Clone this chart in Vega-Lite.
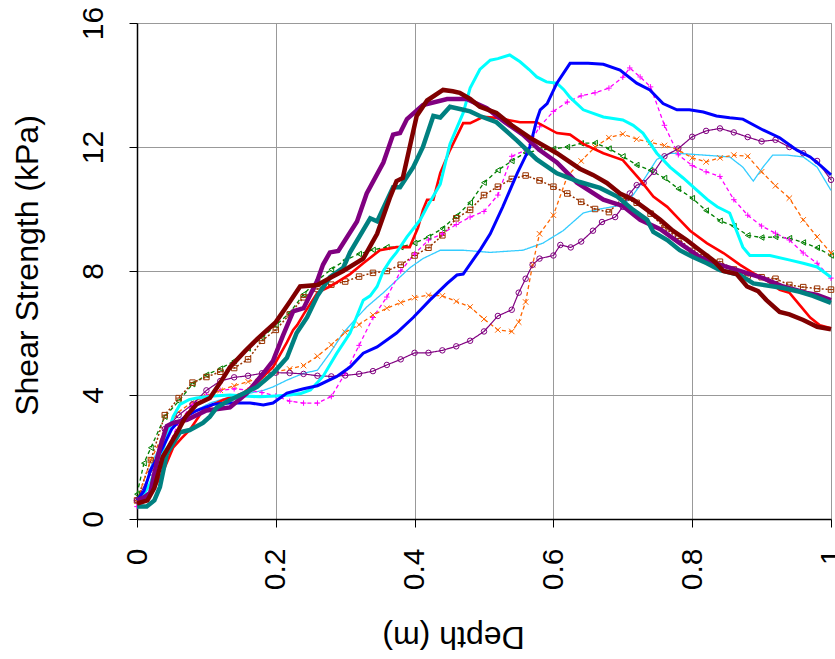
{
"$schema": "https://vega.github.io/schema/vega-lite/v6.json",
"autosize": {"type": "none"},
"padding": {"left": 137, "top": 23, "right": 4, "bottom": 140},
"width": 694,
"height": 496,
"background": "white",
"config": {
  "view": {"stroke": "#999999", "strokeWidth": 1},
  "font": "Liberation Sans",
  "axis": {"labelFont": "Liberation Sans", "titleFont": "Liberation Sans", "labelColor": "black", "titleColor": "black", "titleFontWeight": "normal", "domainColor": "black", "domainWidth": 1.5, "tickColor": "black", "tickWidth": 1, "tickSize": 8, "gridColor": "#999999", "gridWidth": 1, "labelFlush": false, "labelOverlap": false}
},
"data": {"values": [
{"k":"a_lb","d":0,"v":0.6},{"k":"a_lb","d":0.01,"v":0.9},{"k":"a_lb","d":0.023,"v":1.9},{"k":"a_lb","d":0.037,"v":2.5},{"k":"a_lb","d":0.052,"v":3.0},{"k":"a_lb","d":0.076,"v":3.4},{"k":"a_lb","d":0.105,"v":3.74},{"k":"a_lb","d":0.134,"v":3.94},{"k":"a_lb","d":0.163,"v":4.06},{"k":"a_lb","d":0.182,"v":4.15},{"k":"a_lb","d":0.196,"v":4.26},{"k":"a_lb","d":0.216,"v":4.48},{"k":"a_lb","d":0.24,"v":4.7},{"k":"a_lb","d":0.26,"v":4.8},{"k":"a_lb","d":0.278,"v":5.35},{"k":"a_lb","d":0.297,"v":6.0},{"k":"a_lb","d":0.317,"v":6.5},{"k":"a_lb","d":0.331,"v":6.84},{"k":"a_lb","d":0.355,"v":7.3},{"k":"a_lb","d":0.374,"v":7.7},{"k":"a_lb","d":0.393,"v":8.1},{"k":"a_lb","d":0.412,"v":8.4},{"k":"a_lb","d":0.437,"v":8.67},{"k":"a_lb","d":0.47,"v":8.67},{"k":"a_lb","d":0.509,"v":8.6},{"k":"a_lb","d":0.535,"v":8.64},{"k":"a_lb","d":0.556,"v":8.67},{"k":"a_lb","d":0.585,"v":8.9},{"k":"a_lb","d":0.614,"v":9.3},{"k":"a_lb","d":0.643,"v":9.87},{"k":"a_lb","d":0.667,"v":10.0},{"k":"a_lb","d":0.692,"v":10.1},{"k":"a_lb","d":0.71,"v":10.3},{"k":"a_lb","d":0.729,"v":10.9},{"k":"a_lb","d":0.749,"v":11.6},{"k":"a_lb","d":0.768,"v":11.8},{"k":"a_lb","d":0.79,"v":11.78},{"k":"a_lb","d":0.816,"v":11.74},{"k":"a_lb","d":0.854,"v":11.68},{"k":"a_lb","d":0.873,"v":11.35},{"k":"a_lb","d":0.888,"v":10.9},{"k":"a_lb","d":0.902,"v":11.35},{"k":"a_lb","d":0.916,"v":11.74},{"k":"a_lb","d":0.936,"v":11.74},{"k":"a_lb","d":0.96,"v":11.68},{"k":"a_lb","d":0.98,"v":11.35},{"k":"a_lb","d":1.0,"v":10.6},

{"k":"b_gr","d":0,"v":0.8},{"k":"b_gr","d":0.01,"v":1.8},{"k":"b_gr","d":0.02,"v":2.3},{"k":"b_gr","d":0.04,"v":3.3},{"k":"b_gr","d":0.06,"v":3.8},{"k":"b_gr","d":0.08,"v":4.35},{"k":"b_gr","d":0.1,"v":4.65},{"k":"b_gr","d":0.12,"v":4.85},{"k":"b_gr","d":0.14,"v":5.1},{"k":"b_gr","d":0.16,"v":5.5},{"k":"b_gr","d":0.18,"v":5.85},{"k":"b_gr","d":0.2,"v":6.25},{"k":"b_gr","d":0.22,"v":6.65},{"k":"b_gr","d":0.24,"v":7.25},{"k":"b_gr","d":0.26,"v":7.7},{"k":"b_gr","d":0.28,"v":8.05},{"k":"b_gr","d":0.3,"v":8.35},{"k":"b_gr","d":0.32,"v":8.55},{"k":"b_gr","d":0.34,"v":8.68},{"k":"b_gr","d":0.36,"v":8.77},{"k":"b_gr","d":0.38,"v":8.77},{"k":"b_gr","d":0.4,"v":8.9},{"k":"b_gr","d":0.42,"v":9.1},{"k":"b_gr","d":0.44,"v":9.37},{"k":"b_gr","d":0.46,"v":9.77},{"k":"b_gr","d":0.48,"v":10.2},{"k":"b_gr","d":0.5,"v":10.85},{"k":"b_gr","d":0.52,"v":11.25},{"k":"b_gr","d":0.54,"v":11.55},{"k":"b_gr","d":0.56,"v":11.82},{"k":"b_gr","d":0.58,"v":11.9},{"k":"b_gr","d":0.6,"v":11.94},{"k":"b_gr","d":0.62,"v":12.0},{"k":"b_gr","d":0.64,"v":12.12},{"k":"b_gr","d":0.66,"v":12.13},{"k":"b_gr","d":0.68,"v":11.95},{"k":"b_gr","d":0.7,"v":11.7},{"k":"b_gr","d":0.72,"v":11.42},{"k":"b_gr","d":0.74,"v":11.25},{"k":"b_gr","d":0.76,"v":11.0},{"k":"b_gr","d":0.78,"v":10.65},{"k":"b_gr","d":0.8,"v":10.35},{"k":"b_gr","d":0.82,"v":9.95},{"k":"b_gr","d":0.84,"v":9.62},{"k":"b_gr","d":0.86,"v":9.45},{"k":"b_gr","d":0.88,"v":9.15},{"k":"b_gr","d":0.9,"v":9.08},{"k":"b_gr","d":0.92,"v":9.1},{"k":"b_gr","d":0.94,"v":9.06},{"k":"b_gr","d":0.96,"v":8.92},{"k":"b_gr","d":0.98,"v":8.75},{"k":"b_gr","d":1.0,"v":8.5},

{"k":"c_br","d":0,"v":0.6},{"k":"c_br","d":0.02,"v":1.9},{"k":"c_br","d":0.04,"v":3.35},{"k":"c_br","d":0.06,"v":3.9},{"k":"c_br","d":0.08,"v":4.4},{"k":"c_br","d":0.1,"v":4.58},{"k":"c_br","d":0.12,"v":4.75},{"k":"c_br","d":0.14,"v":4.87},{"k":"c_br","d":0.16,"v":5.15},{"k":"c_br","d":0.18,"v":5.75},{"k":"c_br","d":0.2,"v":6.1},{"k":"c_br","d":0.22,"v":6.6},{"k":"c_br","d":0.24,"v":7.15},{"k":"c_br","d":0.26,"v":7.42},{"k":"c_br","d":0.28,"v":7.56},{"k":"c_br","d":0.3,"v":7.66},{"k":"c_br","d":0.32,"v":7.82},{"k":"c_br","d":0.34,"v":7.94},{"k":"c_br","d":0.36,"v":8.0},{"k":"c_br","d":0.38,"v":8.2},{"k":"c_br","d":0.4,"v":8.5},{"k":"c_br","d":0.42,"v":8.75},{"k":"c_br","d":0.44,"v":9.15},{"k":"c_br","d":0.46,"v":9.7},{"k":"c_br","d":0.48,"v":9.97},{"k":"c_br","d":0.5,"v":10.45},{"k":"c_br","d":0.52,"v":10.72},{"k":"c_br","d":0.54,"v":10.97},{"k":"c_br","d":0.56,"v":11.08},{"k":"c_br","d":0.58,"v":10.92},{"k":"c_br","d":0.6,"v":10.72},{"k":"c_br","d":0.62,"v":10.5},{"k":"c_br","d":0.64,"v":10.23},{"k":"c_br","d":0.66,"v":10.0},{"k":"c_br","d":0.68,"v":9.9},{"k":"c_br","d":0.7,"v":10.35},{"k":"c_br","d":0.72,"v":10.2},{"k":"c_br","d":0.74,"v":9.85},{"k":"c_br","d":0.76,"v":9.4},{"k":"c_br","d":0.78,"v":9.05},{"k":"c_br","d":0.8,"v":8.65},{"k":"c_br","d":0.82,"v":8.45},{"k":"c_br","d":0.84,"v":8.3},{"k":"c_br","d":0.86,"v":8.05},{"k":"c_br","d":0.88,"v":7.85},{"k":"c_br","d":0.9,"v":7.8},{"k":"c_br","d":0.92,"v":7.75},{"k":"c_br","d":0.94,"v":7.55},{"k":"c_br","d":0.96,"v":7.48},{"k":"c_br","d":0.98,"v":7.43},{"k":"c_br","d":1.0,"v":7.4},

{"k":"d_mg","d":0,"v":0.4},{"k":"d_mg","d":0.02,"v":0.9},{"k":"d_mg","d":0.04,"v":2.1},{"k":"d_mg","d":0.06,"v":3.1},{"k":"d_mg","d":0.08,"v":3.7},{"k":"d_mg","d":0.1,"v":4.0},{"k":"d_mg","d":0.12,"v":4.15},{"k":"d_mg","d":0.14,"v":4.2},{"k":"d_mg","d":0.16,"v":4.16},{"k":"d_mg","d":0.18,"v":4.08},{"k":"d_mg","d":0.2,"v":3.97},{"k":"d_mg","d":0.22,"v":3.8},{"k":"d_mg","d":0.24,"v":3.74},{"k":"d_mg","d":0.26,"v":3.74},{"k":"d_mg","d":0.28,"v":3.95},{"k":"d_mg","d":0.3,"v":4.7},{"k":"d_mg","d":0.32,"v":5.6},{"k":"d_mg","d":0.34,"v":6.5},{"k":"d_mg","d":0.36,"v":7.16},{"k":"d_mg","d":0.38,"v":8.0},{"k":"d_mg","d":0.4,"v":8.55},{"k":"d_mg","d":0.42,"v":9.0},{"k":"d_mg","d":0.44,"v":9.2},{"k":"d_mg","d":0.46,"v":9.5},{"k":"d_mg","d":0.48,"v":9.74},{"k":"d_mg","d":0.5,"v":9.92},{"k":"d_mg","d":0.52,"v":10.45},{"k":"d_mg","d":0.54,"v":11.7},{"k":"d_mg","d":0.56,"v":11.9},{"k":"d_mg","d":0.58,"v":12.65},{"k":"d_mg","d":0.6,"v":13.15},{"k":"d_mg","d":0.62,"v":13.45},{"k":"d_mg","d":0.64,"v":13.65},{"k":"d_mg","d":0.66,"v":13.75},{"k":"d_mg","d":0.68,"v":13.9},{"k":"d_mg","d":0.7,"v":14.25},{"k":"d_mg","d":0.71,"v":14.55},{"k":"d_mg","d":0.725,"v":14.26},{"k":"d_mg","d":0.74,"v":13.94},{"k":"d_mg","d":0.76,"v":12.7},{"k":"d_mg","d":0.78,"v":11.75},{"k":"d_mg","d":0.8,"v":11.4},{"k":"d_mg","d":0.82,"v":11.2},{"k":"d_mg","d":0.84,"v":11.05},{"k":"d_mg","d":0.86,"v":10.3},{"k":"d_mg","d":0.88,"v":9.8},{"k":"d_mg","d":0.9,"v":9.45},{"k":"d_mg","d":0.92,"v":9.22},{"k":"d_mg","d":0.94,"v":9.0},{"k":"d_mg","d":0.96,"v":8.58},{"k":"d_mg","d":0.98,"v":8.25},{"k":"d_mg","d":1.0,"v":7.77},

{"k":"e_or","d":0,"v":0.6},{"k":"e_or","d":0.02,"v":1.9},{"k":"e_or","d":0.04,"v":2.85},{"k":"e_or","d":0.06,"v":3.45},{"k":"e_or","d":0.08,"v":3.78},{"k":"e_or","d":0.1,"v":3.95},{"k":"e_or","d":0.12,"v":4.15},{"k":"e_or","d":0.14,"v":4.3},{"k":"e_or","d":0.16,"v":4.43},{"k":"e_or","d":0.18,"v":4.56},{"k":"e_or","d":0.2,"v":4.75},{"k":"e_or","d":0.22,"v":4.84},{"k":"e_or","d":0.24,"v":4.95},{"k":"e_or","d":0.26,"v":5.25},{"k":"e_or","d":0.28,"v":5.62},{"k":"e_or","d":0.3,"v":6.02},{"k":"e_or","d":0.32,"v":6.27},{"k":"e_or","d":0.34,"v":6.58},{"k":"e_or","d":0.36,"v":6.8},{"k":"e_or","d":0.38,"v":6.98},{"k":"e_or","d":0.4,"v":7.14},{"k":"e_or","d":0.42,"v":7.22},{"k":"e_or","d":0.44,"v":7.2},{"k":"e_or","d":0.46,"v":7.02},{"k":"e_or","d":0.48,"v":6.84},{"k":"e_or","d":0.5,"v":6.45},{"k":"e_or","d":0.52,"v":6.1},{"k":"e_or","d":0.54,"v":6.05},{"k":"e_or","d":0.55,"v":6.35},{"k":"e_or","d":0.56,"v":7.0},{"k":"e_or","d":0.57,"v":8.2},{"k":"e_or","d":0.58,"v":9.2},{"k":"e_or","d":0.6,"v":9.8},{"k":"e_or","d":0.62,"v":11.05},{"k":"e_or","d":0.64,"v":11.55},{"k":"e_or","d":0.66,"v":12.0},{"k":"e_or","d":0.68,"v":12.3},{"k":"e_or","d":0.7,"v":12.42},{"k":"e_or","d":0.72,"v":12.25},{"k":"e_or","d":0.74,"v":12.15},{"k":"e_or","d":0.76,"v":12.05},{"k":"e_or","d":0.78,"v":11.9},{"k":"e_or","d":0.8,"v":11.65},{"k":"e_or","d":0.82,"v":11.52},{"k":"e_or","d":0.84,"v":11.65},{"k":"e_or","d":0.86,"v":11.74},{"k":"e_or","d":0.88,"v":11.7},{"k":"e_or","d":0.9,"v":11.2},{"k":"e_or","d":0.92,"v":10.75},{"k":"e_or","d":0.94,"v":10.35},{"k":"e_or","d":0.96,"v":9.65},{"k":"e_or","d":0.98,"v":9.1},{"k":"e_or","d":1.0,"v":8.58},

{"k":"f_pt","d":0,"v":0.6},{"k":"f_pt","d":0.02,"v":1.5},{"k":"f_pt","d":0.04,"v":2.9},{"k":"f_pt","d":0.06,"v":3.35},{"k":"f_pt","d":0.08,"v":3.7},{"k":"f_pt","d":0.1,"v":4.15},{"k":"f_pt","d":0.12,"v":4.45},{"k":"f_pt","d":0.14,"v":4.57},{"k":"f_pt","d":0.16,"v":4.62},{"k":"f_pt","d":0.18,"v":4.7},{"k":"f_pt","d":0.2,"v":4.72},{"k":"f_pt","d":0.22,"v":4.71},{"k":"f_pt","d":0.24,"v":4.68},{"k":"f_pt","d":0.26,"v":4.62},{"k":"f_pt","d":0.28,"v":4.6},{"k":"f_pt","d":0.3,"v":4.63},{"k":"f_pt","d":0.32,"v":4.68},{"k":"f_pt","d":0.34,"v":4.77},{"k":"f_pt","d":0.36,"v":4.97},{"k":"f_pt","d":0.38,"v":5.15},{"k":"f_pt","d":0.4,"v":5.36},{"k":"f_pt","d":0.42,"v":5.36},{"k":"f_pt","d":0.44,"v":5.44},{"k":"f_pt","d":0.46,"v":5.57},{"k":"f_pt","d":0.48,"v":5.75},{"k":"f_pt","d":0.5,"v":6.05},{"k":"f_pt","d":0.52,"v":6.55},{"k":"f_pt","d":0.54,"v":6.75},{"k":"f_pt","d":0.55,"v":7.3},{"k":"f_pt","d":0.56,"v":7.75},{"k":"f_pt","d":0.57,"v":8.2},{"k":"f_pt","d":0.58,"v":8.4},{"k":"f_pt","d":0.6,"v":8.5},{"k":"f_pt","d":0.61,"v":8.84},{"k":"f_pt","d":0.625,"v":8.76},{"k":"f_pt","d":0.64,"v":8.95},{"k":"f_pt","d":0.657,"v":9.3},{"k":"f_pt","d":0.67,"v":9.58},{"k":"f_pt","d":0.689,"v":9.74},{"k":"f_pt","d":0.7,"v":10.07},{"k":"f_pt","d":0.71,"v":10.5},{"k":"f_pt","d":0.72,"v":10.77},{"k":"f_pt","d":0.73,"v":10.84},{"k":"f_pt","d":0.745,"v":11.2},{"k":"f_pt","d":0.76,"v":11.7},{"k":"f_pt","d":0.78,"v":11.95},{"k":"f_pt","d":0.8,"v":12.33},{"k":"f_pt","d":0.82,"v":12.52},{"k":"f_pt","d":0.84,"v":12.6},{"k":"f_pt","d":0.86,"v":12.47},{"k":"f_pt","d":0.88,"v":12.32},{"k":"f_pt","d":0.9,"v":12.18},{"k":"f_pt","d":0.92,"v":12.23},{"k":"f_pt","d":0.94,"v":12.0},{"k":"f_pt","d":0.96,"v":11.8},{"k":"f_pt","d":0.98,"v":11.55},{"k":"f_pt","d":1.0,"v":10.94},

{"k":"g_rd","d":0,"v":0.5},{"k":"g_rd","d":0.015,"v":0.7},{"k":"g_rd","d":0.025,"v":1.0},{"k":"g_rd","d":0.037,"v":1.5},{"k":"g_rd","d":0.052,"v":2.3},{"k":"g_rd","d":0.064,"v":2.6},{"k":"g_rd","d":0.076,"v":2.87},{"k":"g_rd","d":0.095,"v":3.5},{"k":"g_rd","d":0.11,"v":3.7},{"k":"g_rd","d":0.124,"v":3.84},{"k":"g_rd","d":0.153,"v":4.06},{"k":"g_rd","d":0.173,"v":4.4},{"k":"g_rd","d":0.196,"v":4.9},{"k":"g_rd","d":0.216,"v":5.7},{"k":"g_rd","d":0.225,"v":6.1},{"k":"g_rd","d":0.231,"v":6.26},{"k":"g_rd","d":0.24,"v":6.6},{"k":"g_rd","d":0.26,"v":7.3},{"k":"g_rd","d":0.278,"v":7.5},{"k":"g_rd","d":0.307,"v":7.9},{"k":"g_rd","d":0.326,"v":8.25},{"k":"g_rd","d":0.35,"v":8.67},{"k":"g_rd","d":0.374,"v":8.77},{"k":"g_rd","d":0.393,"v":8.77},{"k":"g_rd","d":0.405,"v":9.4},{"k":"g_rd","d":0.412,"v":9.97},{"k":"g_rd","d":0.418,"v":10.3},{"k":"g_rd","d":0.427,"v":10.3},{"k":"g_rd","d":0.437,"v":11.16},{"k":"g_rd","d":0.451,"v":11.9},{"k":"g_rd","d":0.47,"v":12.77},{"k":"g_rd","d":0.48,"v":12.77},{"k":"g_rd","d":0.499,"v":12.97},{"k":"g_rd","d":0.518,"v":12.94},{"k":"g_rd","d":0.552,"v":12.8},{"k":"g_rd","d":0.576,"v":12.8},{"k":"g_rd","d":0.605,"v":12.45},{"k":"g_rd","d":0.624,"v":12.4},{"k":"g_rd","d":0.643,"v":12.1},{"k":"g_rd","d":0.672,"v":11.8},{"k":"g_rd","d":0.7,"v":11.58},{"k":"g_rd","d":0.725,"v":10.94},{"k":"g_rd","d":0.744,"v":10.4},{"k":"g_rd","d":0.764,"v":10.07},{"k":"g_rd","d":0.782,"v":9.65},{"k":"g_rd","d":0.797,"v":9.3},{"k":"g_rd","d":0.821,"v":8.9},{"k":"g_rd","d":0.845,"v":8.58},{"k":"g_rd","d":0.869,"v":8.2},{"k":"g_rd","d":0.888,"v":7.93},{"k":"g_rd","d":0.907,"v":7.7},{"k":"g_rd","d":0.926,"v":7.39},{"k":"g_rd","d":0.94,"v":7.3},{"k":"g_rd","d":0.955,"v":6.9},{"k":"g_rd","d":0.97,"v":6.5},{"k":"g_rd","d":0.984,"v":6.25},{"k":"g_rd","d":1.0,"v":6.15},

{"k":"h_cy","d":0,"v":0.6},{"k":"h_cy","d":0.01,"v":0.8},{"k":"h_cy","d":0.019,"v":1.15},{"k":"h_cy","d":0.03,"v":1.8},{"k":"h_cy","d":0.037,"v":2.2},{"k":"h_cy","d":0.045,"v":2.8},{"k":"h_cy","d":0.052,"v":3.3},{"k":"h_cy","d":0.062,"v":3.7},{"k":"h_cy","d":0.075,"v":3.85},{"k":"h_cy","d":0.086,"v":3.9},{"k":"h_cy","d":0.11,"v":3.97},{"k":"h_cy","d":0.134,"v":4.0},{"k":"h_cy","d":0.155,"v":3.97},{"k":"h_cy","d":0.177,"v":3.94},{"k":"h_cy","d":0.2,"v":3.97},{"k":"h_cy","d":0.22,"v":4.0},{"k":"h_cy","d":0.236,"v":4.05},{"k":"h_cy","d":0.25,"v":4.16},{"k":"h_cy","d":0.268,"v":4.6},{"k":"h_cy","d":0.288,"v":5.35},{"k":"h_cy","d":0.307,"v":6.0},{"k":"h_cy","d":0.326,"v":7.06},{"k":"h_cy","d":0.336,"v":7.2},{"k":"h_cy","d":0.346,"v":7.5},{"k":"h_cy","d":0.355,"v":8.0},{"k":"h_cy","d":0.365,"v":8.35},{"k":"h_cy","d":0.374,"v":8.6},{"k":"h_cy","d":0.389,"v":9.1},{"k":"h_cy","d":0.408,"v":9.65},{"k":"h_cy","d":0.418,"v":10.07},{"k":"h_cy","d":0.437,"v":10.8},{"k":"h_cy","d":0.451,"v":12.1},{"k":"h_cy","d":0.47,"v":13.1},{"k":"h_cy","d":0.48,"v":13.9},{"k":"h_cy","d":0.494,"v":14.5},{"k":"h_cy","d":0.509,"v":14.8},{"k":"h_cy","d":0.52,"v":14.85},{"k":"h_cy","d":0.537,"v":14.97},{"k":"h_cy","d":0.552,"v":14.75},{"k":"h_cy","d":0.565,"v":14.5},{"k":"h_cy","d":0.576,"v":14.26},{"k":"h_cy","d":0.59,"v":14.1},{"k":"h_cy","d":0.605,"v":14.06},{"k":"h_cy","d":0.615,"v":13.85},{"k":"h_cy","d":0.624,"v":13.6},{"k":"h_cy","d":0.643,"v":13.2},{"k":"h_cy","d":0.672,"v":12.97},{"k":"h_cy","d":0.7,"v":12.87},{"k":"h_cy","d":0.715,"v":12.7},{"k":"h_cy","d":0.729,"v":12.45},{"k":"h_cy","d":0.749,"v":11.8},{"k":"h_cy","d":0.768,"v":11.35},{"k":"h_cy","d":0.787,"v":11.0},{"k":"h_cy","d":0.807,"v":10.6},{"k":"h_cy","d":0.822,"v":10.3},{"k":"h_cy","d":0.836,"v":10.07},{"k":"h_cy","d":0.854,"v":9.87},{"k":"h_cy","d":0.873,"v":8.77},{"k":"h_cy","d":0.883,"v":8.5},{"k":"h_cy","d":0.912,"v":8.5},{"k":"h_cy","d":0.941,"v":8.35},{"k":"h_cy","d":0.96,"v":8.25},{"k":"h_cy","d":0.98,"v":8.13},{"k":"h_cy","d":1.0,"v":7.8},

{"k":"i_bl","d":0,"v":0.6},{"k":"i_bl","d":0.01,"v":0.9},{"k":"i_bl","d":0.02,"v":1.6},{"k":"i_bl","d":0.03,"v":2.0},{"k":"i_bl","d":0.037,"v":2.3},{"k":"i_bl","d":0.05,"v":2.9},{"k":"i_bl","d":0.058,"v":3.1},{"k":"i_bl","d":0.07,"v":3.3},{"k":"i_bl","d":0.086,"v":3.5},{"k":"i_bl","d":0.11,"v":3.7},{"k":"i_bl","d":0.134,"v":3.74},{"k":"i_bl","d":0.163,"v":3.74},{"k":"i_bl","d":0.182,"v":3.68},{"k":"i_bl","d":0.196,"v":3.74},{"k":"i_bl","d":0.216,"v":4.06},{"k":"i_bl","d":0.24,"v":4.2},{"k":"i_bl","d":0.26,"v":4.3},{"k":"i_bl","d":0.288,"v":4.6},{"k":"i_bl","d":0.307,"v":4.9},{"k":"i_bl","d":0.326,"v":5.35},{"k":"i_bl","d":0.346,"v":5.55},{"k":"i_bl","d":0.374,"v":6.0},{"k":"i_bl","d":0.398,"v":6.5},{"k":"i_bl","d":0.422,"v":7.06},{"k":"i_bl","d":0.447,"v":7.6},{"k":"i_bl","d":0.461,"v":7.87},{"k":"i_bl","d":0.47,"v":7.9},{"k":"i_bl","d":0.484,"v":8.35},{"k":"i_bl","d":0.495,"v":8.7},{"k":"i_bl","d":0.509,"v":9.2},{"k":"i_bl","d":0.527,"v":10.07},{"k":"i_bl","d":0.548,"v":11.16},{"k":"i_bl","d":0.562,"v":11.8},{"k":"i_bl","d":0.566,"v":12.0},{"k":"i_bl","d":0.576,"v":12.87},{"k":"i_bl","d":0.581,"v":13.2},{"k":"i_bl","d":0.591,"v":13.4},{"k":"i_bl","d":0.605,"v":14.06},{"k":"i_bl","d":0.624,"v":14.7},{"k":"i_bl","d":0.65,"v":14.7},{"k":"i_bl","d":0.672,"v":14.67},{"k":"i_bl","d":0.696,"v":14.48},{"k":"i_bl","d":0.72,"v":14.06},{"k":"i_bl","d":0.739,"v":13.84},{"k":"i_bl","d":0.758,"v":13.4},{"k":"i_bl","d":0.778,"v":13.2},{"k":"i_bl","d":0.796,"v":13.2},{"k":"i_bl","d":0.816,"v":13.13},{"k":"i_bl","d":0.835,"v":13.0},{"k":"i_bl","d":0.854,"v":12.94},{"k":"i_bl","d":0.873,"v":12.9},{"k":"i_bl","d":0.902,"v":12.55},{"k":"i_bl","d":0.926,"v":12.3},{"k":"i_bl","d":0.951,"v":11.9},{"k":"i_bl","d":0.97,"v":11.68},{"k":"i_bl","d":0.985,"v":11.4},{"k":"i_bl","d":1.0,"v":11.1},

{"k":"j_pu","d":0,"v":0.6},{"k":"j_pu","d":0.01,"v":0.7},{"k":"j_pu","d":0.019,"v":0.84},{"k":"j_pu","d":0.033,"v":2.3},{"k":"j_pu","d":0.043,"v":3.0},{"k":"j_pu","d":0.052,"v":3.1},{"k":"j_pu","d":0.072,"v":3.2},{"k":"j_pu","d":0.1,"v":3.5},{"k":"j_pu","d":0.134,"v":3.6},{"k":"j_pu","d":0.158,"v":4.05},{"k":"j_pu","d":0.182,"v":4.7},{"k":"j_pu","d":0.196,"v":5.1},{"k":"j_pu","d":0.21,"v":5.9},{"k":"j_pu","d":0.225,"v":6.7},{"k":"j_pu","d":0.24,"v":6.8},{"k":"j_pu","d":0.26,"v":7.7},{"k":"j_pu","d":0.268,"v":8.2},{"k":"j_pu","d":0.278,"v":8.6},{"k":"j_pu","d":0.29,"v":8.65},{"k":"j_pu","d":0.317,"v":9.6},{"k":"j_pu","d":0.331,"v":10.5},{"k":"j_pu","d":0.355,"v":11.5},{"k":"j_pu","d":0.369,"v":12.4},{"k":"j_pu","d":0.379,"v":12.45},{"k":"j_pu","d":0.389,"v":12.9},{"k":"j_pu","d":0.412,"v":13.35},{"k":"j_pu","d":0.447,"v":13.55},{"k":"j_pu","d":0.475,"v":13.55},{"k":"j_pu","d":0.494,"v":13.35},{"k":"j_pu","d":0.504,"v":13.25},{"k":"j_pu","d":0.53,"v":12.8},{"k":"j_pu","d":0.556,"v":12.4},{"k":"j_pu","d":0.58,"v":11.9},{"k":"j_pu","d":0.605,"v":11.5},{"k":"j_pu","d":0.634,"v":10.85},{"k":"j_pu","d":0.672,"v":10.3},{"k":"j_pu","d":0.7,"v":10.1},{"k":"j_pu","d":0.725,"v":9.65},{"k":"j_pu","d":0.754,"v":9.35},{"k":"j_pu","d":0.782,"v":8.9},{"k":"j_pu","d":0.811,"v":8.45},{"k":"j_pu","d":0.84,"v":8.2},{"k":"j_pu","d":0.85,"v":8.13},{"k":"j_pu","d":0.879,"v":7.93},{"k":"j_pu","d":0.902,"v":7.77},{"k":"j_pu","d":0.931,"v":7.5},{"k":"j_pu","d":0.965,"v":7.29},{"k":"j_pu","d":0.98,"v":7.23},{"k":"j_pu","d":1.0,"v":7.06},

{"k":"k_te","d":0,"v":0.4},{"k":"k_te","d":0.014,"v":0.4},{"k":"k_te","d":0.025,"v":0.6},{"k":"k_te","d":0.033,"v":1.03},{"k":"k_te","d":0.043,"v":2.1},{"k":"k_te","d":0.062,"v":2.8},{"k":"k_te","d":0.076,"v":2.87},{"k":"k_te","d":0.095,"v":3.1},{"k":"k_te","d":0.105,"v":3.3},{"k":"k_te","d":0.115,"v":3.6},{"k":"k_te","d":0.134,"v":3.84},{"k":"k_te","d":0.173,"v":4.26},{"k":"k_te","d":0.196,"v":4.7},{"k":"k_te","d":0.216,"v":5.2},{"k":"k_te","d":0.23,"v":6.0},{"k":"k_te","d":0.245,"v":6.5},{"k":"k_te","d":0.26,"v":7.2},{"k":"k_te","d":0.278,"v":7.8},{"k":"k_te","d":0.297,"v":8.1},{"k":"k_te","d":0.307,"v":8.6},{"k":"k_te","d":0.336,"v":9.7},{"k":"k_te","d":0.346,"v":9.6},{"k":"k_te","d":0.369,"v":10.7},{"k":"k_te","d":0.379,"v":10.7},{"k":"k_te","d":0.398,"v":11.35},{"k":"k_te","d":0.412,"v":12.0},{"k":"k_te","d":0.427,"v":13.0},{"k":"k_te","d":0.437,"v":12.95},{"k":"k_te","d":0.451,"v":13.3},{"k":"k_te","d":0.47,"v":13.2},{"k":"k_te","d":0.48,"v":13.15},{"k":"k_te","d":0.494,"v":13.0},{"k":"k_te","d":0.518,"v":12.8},{"k":"k_te","d":0.548,"v":12.2},{"k":"k_te","d":0.576,"v":11.6},{"k":"k_te","d":0.605,"v":11.15},{"k":"k_te","d":0.638,"v":10.87},{"k":"k_te","d":0.667,"v":10.68},{"k":"k_te","d":0.692,"v":10.4},{"k":"k_te","d":0.715,"v":9.97},{"k":"k_te","d":0.735,"v":9.65},{"k":"k_te","d":0.744,"v":9.26},{"k":"k_te","d":0.764,"v":9.0},{"k":"k_te","d":0.782,"v":8.67},{"k":"k_te","d":0.801,"v":8.45},{"k":"k_te","d":0.821,"v":8.25},{"k":"k_te","d":0.84,"v":8.03},{"k":"k_te","d":0.869,"v":7.87},{"k":"k_te","d":0.888,"v":7.6},{"k":"k_te","d":0.931,"v":7.45},{"k":"k_te","d":0.955,"v":7.33},{"k":"k_te","d":0.974,"v":7.2},{"k":"k_te","d":1.0,"v":6.97},

{"k":"l_ma","d":0,"v":0.5},{"k":"l_ma","d":0.015,"v":0.6},{"k":"l_ma","d":0.025,"v":1.0},{"k":"l_ma","d":0.037,"v":2.0},{"k":"l_ma","d":0.045,"v":2.3},{"k":"l_ma","d":0.058,"v":2.8},{"k":"l_ma","d":0.07,"v":3.3},{"k":"l_ma","d":0.086,"v":3.7},{"k":"l_ma","d":0.105,"v":3.9},{"k":"l_ma","d":0.12,"v":4.4},{"k":"l_ma","d":0.134,"v":4.9},{"k":"l_ma","d":0.155,"v":5.4},{"k":"l_ma","d":0.173,"v":5.8},{"k":"l_ma","d":0.2,"v":6.35},{"k":"l_ma","d":0.22,"v":7.0},{"k":"l_ma","d":0.235,"v":7.5},{"k":"l_ma","d":0.26,"v":7.55},{"k":"l_ma","d":0.28,"v":7.8},{"k":"l_ma","d":0.297,"v":8.0},{"k":"l_ma","d":0.326,"v":8.4},{"k":"l_ma","d":0.346,"v":9.2},{"k":"l_ma","d":0.365,"v":10.4},{"k":"l_ma","d":0.374,"v":10.9},{"k":"l_ma","d":0.383,"v":11.0},{"k":"l_ma","d":0.393,"v":12.0},{"k":"l_ma","d":0.403,"v":13.0},{"k":"l_ma","d":0.418,"v":13.5},{"k":"l_ma","d":0.441,"v":13.84},{"k":"l_ma","d":0.455,"v":13.8},{"k":"l_ma","d":0.465,"v":13.75},{"k":"l_ma","d":0.48,"v":13.55},{"k":"l_ma","d":0.494,"v":13.3},{"k":"l_ma","d":0.518,"v":13.1},{"k":"l_ma","d":0.54,"v":12.7},{"k":"l_ma","d":0.566,"v":12.3},{"k":"l_ma","d":0.605,"v":11.8},{"k":"l_ma","d":0.638,"v":11.3},{"k":"l_ma","d":0.657,"v":11.1},{"k":"l_ma","d":0.677,"v":10.84},{"k":"l_ma","d":0.696,"v":10.5},{"k":"l_ma","d":0.715,"v":10.3},{"k":"l_ma","d":0.735,"v":9.97},{"k":"l_ma","d":0.754,"v":9.65},{"k":"l_ma","d":0.772,"v":9.3},{"k":"l_ma","d":0.792,"v":9.0},{"k":"l_ma","d":0.811,"v":8.67},{"k":"l_ma","d":0.83,"v":8.35},{"k":"l_ma","d":0.845,"v":8.0},{"k":"l_ma","d":0.864,"v":7.9},{"k":"l_ma","d":0.879,"v":7.5},{"k":"l_ma","d":0.895,"v":7.35},{"k":"l_ma","d":0.907,"v":7.06},{"k":"l_ma","d":0.926,"v":6.68},{"k":"l_ma","d":0.94,"v":6.6},{"k":"l_ma","d":0.96,"v":6.42},{"k":"l_ma","d":0.98,"v":6.2},{"k":"l_ma","d":1.0,"v":6.12}
]},
"encoding": {
  "x": {"field": "d", "type": "quantitative", "scale": {"domain": [0, 1], "nice": false},
        "axis": {"title": "Depth (m)", "values": [0, 0.2, 0.4, 0.6, 0.8, 1], "format": ".1~f", "grid": true,
                 "labelAngle": 270, "labelAlign": "right", "labelBaseline": "middle", "labelFontSize": 30, "labelPadding": 21,
                 "titleFontSize": 32, "titleAngle": 180, "titleAlign": "center", "titleBaseline": "middle", "titleX": 316, "titleY": 117}},
  "y": {"field": "v", "type": "quantitative", "scale": {"domain": [0, 16], "nice": false},
        "axis": {"title": "Shear Strength (kPa)", "values": [0, 4, 8, 12, 16], "grid": true,
                 "labelAngle": 270, "labelAlign": "center", "labelBaseline": "alphabetic", "labelFontSize": 30, "labelPadding": 27,
                 "titleFontSize": 32, "titleAngle": 270, "titleAlign": "center", "titleBaseline": "middle", "titleX": -110, "titleY": 242}},
  "color": {"field": "k", "type": "nominal", "legend": null,
            "scale": {"domain": ["a_lb","b_gr","c_br","d_mg","e_or","f_pt","g_rd","h_cy","i_bl","j_pu","k_te","l_ma"],
                      "range": ["#33CCFF","#008000","#993300","#FF00FF","#FF6600","#800080","#FF0000","#00FFFF","#0000FF","#800080","#008080","#800000"]}}
},
"layer": [
  {"transform": [{"filter": {"field": "k", "oneOf": ["a_lb","b_gr","c_br","d_mg","e_or","f_pt"]}}],
   "mark": {"type": "line"},
   "encoding": {
     "strokeWidth": {"field": "k", "type": "nominal", "legend": null,
        "scale": {"type": "ordinal", "domain": ["a_lb","b_gr","c_br","d_mg","e_or","f_pt","g_rd","h_cy","i_bl","j_pu","k_te","l_ma"], "range": [1.3, 1.3, 1.5, 1.3, 1.3, 1.2, 2.6, 3, 3, 4.5, 4.5, 4.5]}},
     "strokeDash": {"field": "k", "type": "nominal", "legend": null,
        "scale": {"domain": ["a_lb","b_gr","c_br","d_mg","e_or","f_pt","g_rd","h_cy","i_bl","j_pu","k_te","l_ma"], "range": [[1,0],[4,3],[2,2],[4,3],[4,3],[1,0],[1,0],[1,0],[1,0],[1,0],[1,0],[1,0]]}}
   }},
  {"transform": [{"filter": {"field": "k", "oneOf": ["b_gr","c_br","d_mg","e_or","f_pt"]}}],
   "mark": {"type": "point", "filled": false, "strokeWidth": 1, "size": 30, "opacity": 1},
   "encoding": {
     "shape": {"field": "k", "type": "nominal", "legend": null,
        "scale": {"domain": ["b_gr","c_br","d_mg","e_or","f_pt"],
                  "range": ["triangle-left", "M-1,-1H1V1H-1ZM-1,0H1", "M-1,0H1M0,-1V1", "M-1,-1L1,1M-1,1L1,-1", "circle"]}}
   }},
  {"transform": [{"filter": {"field": "k", "oneOf": ["g_rd","h_cy","i_bl","j_pu","k_te","l_ma"]}}],
   "mark": {"type": "line"},
   "encoding": {
     "strokeWidth": {"field": "k", "type": "nominal", "legend": null,
        "scale": {"type": "ordinal", "domain": ["a_lb","b_gr","c_br","d_mg","e_or","f_pt","g_rd","h_cy","i_bl","j_pu","k_te","l_ma"], "range": [1.3, 1.3, 1.5, 1.3, 1.3, 1.2, 2.6, 3, 3, 4.5, 4.5, 4.5]}}
   }}
]
}
